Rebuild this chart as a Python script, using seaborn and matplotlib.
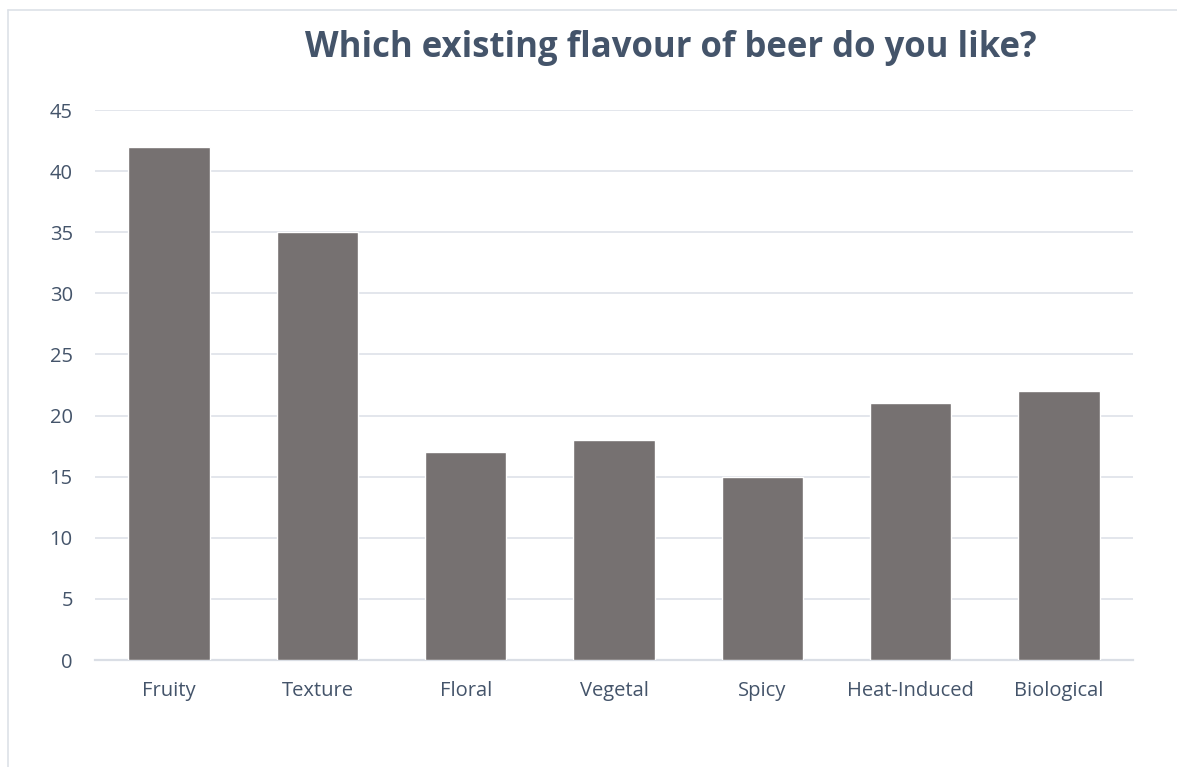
import matplotlib
matplotlib.use("Agg")
import matplotlib.pyplot as plt
from matplotlib.lines import Line2D
import seaborn as sns
import pandas as pd

categories = ["Fruity", "Texture", "Floral", "Vegetal", "Spicy", "Heat-Induced", "Biological"]
values = [42, 35, 17, 18, 15, 21, 22]
yticks = [0, 5, 10, 15, 20, 25, 30, 35, 40, 45]
title = "Which existing flavour of beer do you like?"

sns.set_theme(style="white")
plt.rcParams["font.family"] = ["Open Sans", "DejaVu Sans"]

W, H = 1177, 767
fig = plt.figure(figsize=(W / 100, H / 100), dpi=100)
ax = fig.add_axes([95 / W, 1 - 660 / H, (1133 - 95) / W, (660 - 110) / H])

df = pd.DataFrame({"cat": categories, "val": values})
sns.barplot(data=df, x="cat", y="val", color="#767171", width=0.55,
            saturation=1, ax=ax, zorder=3)

ax.set_ylim(0, 45)
ax.set_xlim(-0.5, len(categories) - 0.5)
ax.set_yticks(yticks)
ax.set_yticklabels([str(t) for t in yticks])
ax.set_xlabel("")
ax.set_ylabel("")
ax.yaxis.grid(True, color="#E1E4EA", linewidth=1.3, zorder=0)
ax.xaxis.grid(False)
for s in ["top", "right", "left"]:
    ax.spines[s].set_visible(False)
ax.spines["bottom"].set_color("#DADEE5")
ax.spines["bottom"].set_linewidth(1.6)
ax.tick_params(axis="both", length=0, labelsize=14.5, labelcolor="#44546A")
ax.tick_params(axis="y", pad=16)
ax.tick_params(axis="x", pad=15)

fig.text(671 / W, 1 - 48 / H, title, ha="center", va="center",
         fontsize=25, fontweight="bold", color="#44546A")

# outer chart-area border (left and top edges visible)
fig.add_artist(Line2D([8 / W, 8 / W], [0, 1 - 10 / H], transform=fig.transFigure,
                      color="#DDE1E8", linewidth=1.2))
fig.add_artist(Line2D([8 / W, 1], [1 - 10 / H, 1 - 10 / H], transform=fig.transFigure,
                      color="#DDE1E8", linewidth=1.2))

fig.savefig("out.png", dpi=100, facecolor="white")
